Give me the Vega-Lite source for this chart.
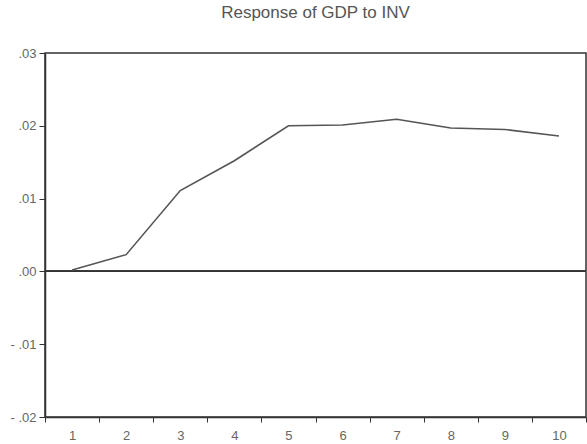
{
  "$schema": "https://vega.github.io/schema/vega-lite/v6.json",
  "autosize": "none",
  "width": 541,
  "height": 364,
  "padding": {"left": 45, "top": 53, "right": 1, "bottom": 27},
  "background": "white",
  "title": {
    "text": "Response of GDP to INV",
    "font": "Liberation Sans",
    "fontSize": 17,
    "fontWeight": "normal",
    "color": "#555555",
    "anchor": "middle",
    "offset": 25
  },
  "config": {
    "view": {"stroke": "#333333", "strokeWidth": 1.5},
    "axis": {
      "labelFont": "Liberation Sans",
      "labelColor": "#666666",
      "labelFontSize": 13,
      "domainColor": "#333333",
      "domainWidth": 1.5,
      "tickColor": "#333333",
      "grid": false,
      "title": null
    }
  },
  "data": {
    "values": [
      {"period": 1, "response": 0.0002},
      {"period": 2, "response": 0.0023},
      {"period": 3, "response": 0.0111},
      {"period": 4, "response": 0.0152},
      {"period": 5, "response": 0.0200},
      {"period": 6, "response": 0.0201},
      {"period": 7, "response": 0.0209},
      {"period": 8, "response": 0.0197},
      {"period": 9, "response": 0.0195},
      {"period": 10, "response": 0.0186}
    ]
  },
  "layer": [
    {
      "mark": {"type": "rule", "color": "#333333", "strokeWidth": 1.3},
      "encoding": {"y": {"datum": 0, "type": "quantitative"}}
    },
    {
      "mark": {"type": "line", "color": "#555555", "strokeWidth": 1.6},
      "encoding": {
        "x": {
          "field": "period",
          "type": "ordinal",
          "sort": null,
          "scale": {"paddingInner": 0, "paddingOuter": 0},
          "axis": {
            "labelAngle": 0,
            "tickBand": "extent",
            "tickSize": 5,
            "labelPadding": 7,
            "domain": true
          }
        },
        "y": {
          "field": "response",
          "type": "quantitative",
          "scale": {"domain": [-0.02, 0.03], "nice": false, "zero": false},
          "axis": {
            "values": [-0.02, -0.01, 0, 0.01, 0.02, 0.03],
            "labelExpr": "datum.value < 0 ? '- ' + replace(format(-datum.value, '.2f'), '0.', '.') : replace(format(datum.value, '.2f'), '0.', '.')",
            "tickSize": 6,
            "labelPadding": 3
          }
        }
      }
    }
  ]
}
